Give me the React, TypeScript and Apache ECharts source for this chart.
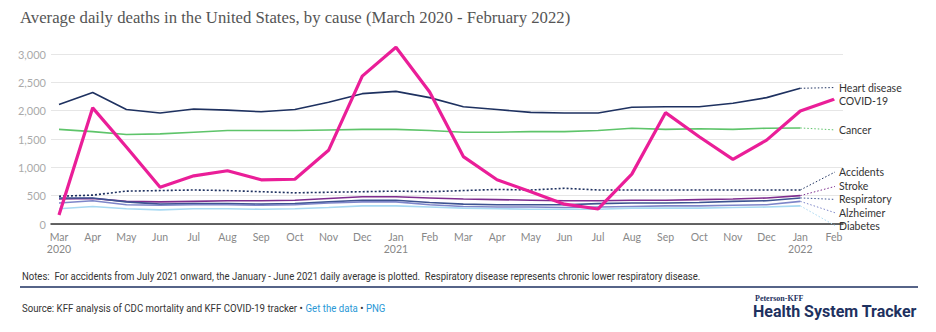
import React, { useEffect, useRef } from "react";
import * as echarts from "echarts";

const months = ["Mar\n2020", "Apr", "May", "Jun", "Jul", "Aug", "Sep", "Oct", "Nov", "Dec", "Jan\n2021", "Feb", "Mar", "Apr", "May", "Jun", "Jul", "Aug", "Sep", "Oct", "Nov", "Dec", "Jan\n2022", "Feb"];
const heart = [2110, 2320, 2020, 1960, 2030, 2010, 1980, 2020, 2150, 2300, 2340, 2230, 2070, 2020, 1970, 1960, 1960, 2060, 2070, 2070, 2130, 2230, 2395];
const covid = [160, 2050, 1360, 650, 850, 940, 780, 790, 1300, 2610, 3120, 2330, 1190, 780, 570, 350, 265, 880, 1965, 1540, 1140, 1480, 1995, 2200];
const cancer = [1670, 1630, 1580, 1590, 1620, 1650, 1650, 1650, 1660, 1670, 1670, 1650, 1620, 1620, 1630, 1630, 1650, 1690, 1670, 1680, 1670, 1690, 1695];
const accidents = [490, 510, 580, 590, 600, 590, 570, 550, 560, 570, 580, 570, 590, 610, 600, 630, 600, 600, 600, 600, 600, 600, 600];
const stroke = [440, 450, 400, 390, 400, 410, 410, 420, 450, 480, 480, 460, 440, 430, 420, 410, 410, 420, 420, 430, 440, 460, 500];
const respiratory = [460, 460, 390, 350, 360, 360, 350, 360, 390, 420, 420, 380, 350, 340, 340, 340, 360, 370, 370, 380, 400, 410, 460];
const alzheimer = [370, 410, 340, 330, 340, 340, 330, 340, 370, 390, 390, 340, 310, 300, 300, 290, 300, 310, 320, 320, 330, 340, 400];
const diabetes = [270, 310, 270, 250, 270, 270, 260, 270, 290, 320, 320, 300, 280, 270, 260, 260, 260, 280, 280, 280, 290, 300, 320];

const seriesNames = ["Heart disease", "Cancer", "Accidents", "Stroke", "Respiratory", "Alzheimer", "Diabetes", "COVID-19"];
const seriesColors = ["#1e3160", "#5ec46a", "#1e3160", "#7e2d8e", "#3d5391", "#7e86c9", "#a8d9f2", "#ea1e98"];
const labelAnchors = [2410, 1655, 970, 690, 430, 165, -85, 2030];

const yTicks = { min: 0, max: 3000, interval: 500 };

export default function App() {
  const ref = useRef<HTMLDivElement>(null);
  useEffect(() => {
    document.body.style.margin = "0";
    const chart = echarts.init(ref.current!, undefined, { renderer: "svg" });
    const values = [heart, cancer, accidents, stroke, respiratory, alzheimer, diabetes, covid];
    const series: any[] = [];
    values.forEach((arr, k) => {
      const isCovid = seriesNames[k] === "COVID-19";
      const isAcc = seriesNames[k] === "Accidents";
      series.push({
        type: "line",
        name: seriesNames[k],
        xAxisIndex: 0,
        yAxisIndex: 0,
        symbol: "none",
        clip: false,
        z: isCovid ? 10 : 3,
        data: arr.map((v, i) => [i, v]),
        lineStyle: {
          color: seriesColors[k],
          width: isCovid ? 3.2 : 1.6,
          type: isAcc ? [2, 2] : "solid",
        },
      });
      const last = arr.length - 1;
      series.push({
        type: "line",
        name: seriesNames[k] + " label",
        xAxisIndex: 0,
        yAxisIndex: 0,
        symbol: "none",
        clip: false,
        z: 2,
        data: [
          [last, arr[last]],
          [23.2, labelAnchors[k]],
        ],
        lineStyle: { color: seriesColors[k], width: 1, type: [1.5, 2] },
        endLabel: {
          show: true,
          formatter: seriesNames[k],
          distance: 4,
          color: "#333",
          fontSize: 10.5,
          fontFamily: "Lato",
        },
      });
    });

    chart.setOption({
      animation: false,
      grid: [
        { left: 59, right: 102, top: 54, bottom: 108 },
        { left: 51, right: 93, top: 54, bottom: 108 },
      ],
      xAxis: [
        {
          type: "value",
          gridIndex: 0,
          min: 0,
          max: 23,
          interval: 1,
          axisLine: { show: false },
          axisTick: { show: false },
          splitLine: { show: false },
          axisLabel: {
            showMinLabel: true,
            showMaxLabel: true,
            formatter: (v: number) => months[v],
            color: "#888",
            fontSize: 10.5,
            fontFamily: "Lato",
            lineHeight: 12,
            margin: 7,
          },
        },
        {
          type: "value",
          gridIndex: 1,
          min: 0,
          max: 1,
          axisLine: { show: true, onZero: false, lineStyle: { color: "#333", width: 1.5 } },
          axisTick: { show: false },
          axisLabel: { show: false },
          splitLine: { show: false },
        },
      ],
      yAxis: [
        { type: "value", gridIndex: 0, ...yTicks, show: false, splitLine: { show: false } },
        {
          type: "value",
          gridIndex: 1,
          ...yTicks,
          axisLine: { show: false },
          axisTick: { show: false },
          axisLabel: { color: "#aaa", fontSize: 11, fontFamily: "Lato", margin: 5 },
          splitLine: { lineStyle: { color: "#e6e6e6", width: 1 } },
        },
      ],
      series,
      graphic: [
        {
          type: "text",
          x: 20,
          y: 10,
          scaleX: 1.045,
          style: {
            text: "Average daily deaths in the United States, by cause (March 2020 - February 2022)",
            fontFamily: "Liberation Serif",
            fontSize: 16,
            fill: "#555",
          },
        },
        {
          type: "text",
          x: 22,
          y: 271,
          scaleX: 0.955,
          style: {
            text: "Notes:  For accidents from July 2021 onward, the January - June 2021 daily average is plotted.  Respiratory disease represents chronic lower respiratory disease.",
            fontFamily: "Roboto",
            fontSize: 10,
            fill: "#333",
          },
        },
        {
          type: "line",
          shape: { x1: 20, y1: 287, x2: 918, y2: 287 },
          style: { stroke: "#1e3160", lineWidth: 1.5 },
        },
        {
          type: "text",
          x: 22,
          y: 303,
          scaleX: 0.965,
          style: {
            text: "{a|Source: KFF analysis of CDC mortality and KFF COVID-19 tracker • }{b|Get the data}{a| • }{b|PNG}",
            fontFamily: "Roboto",
            fontSize: 10,
            rich: {
              a: { fill: "#333", fontFamily: "Roboto", fontSize: 10 },
              b: { fill: "#2a98d6", fontFamily: "Roboto", fontSize: 10 },
            },
          },
        },
        {
          type: "text",
          x: 755,
          y: 294,
          style: {
            text: "Peterson-KFF",
            fontFamily: "Liberation Serif",
            fontSize: 8,
            fontWeight: "bold",
            fill: "#1e3160",
          },
        },
        {
          type: "text",
          x: 753,
          y: 303,
          style: {
            text: "Health System Tracker",
            fontFamily: "Roboto",
            fontSize: 16,
            fontWeight: "bold",
            fill: "#1e3160",
          },
        },
      ],
    });
    return () => chart.dispose();
  }, []);
  return <div ref={ref} style={{ width: 936, height: 332 }} />;
}
